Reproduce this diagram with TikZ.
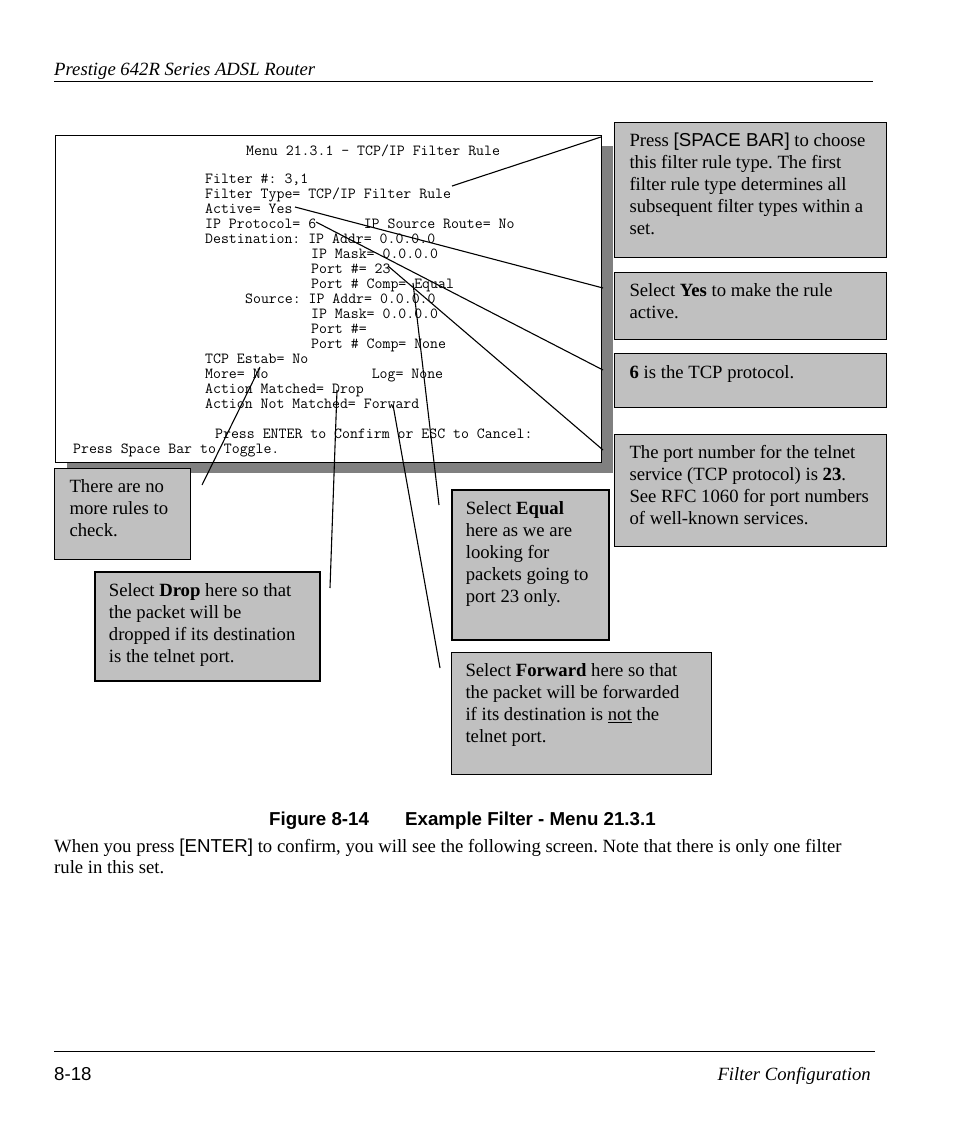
\documentclass[tikz,border=0pt]{standalone}
\usepackage{fontspec}
\setmainfont{Liberation Serif}
\setsansfont{Liberation Sans}
\usetikzlibrary{shadows}

\definecolor{notegray}{RGB}{192,192,192}
\definecolor{shadowgray}{RGB}{128,128,128}

\frenchspacing
\newcommand{\bodyfont}{\fontsize{18.7}{22}\selectfont}
\newcommand{\scrfont}{\ttfamily\fontsize{15.4}{15}\selectfont}
% fixed-size text block, top aligned
\newcommand{\notetext}[3]{\parbox[c][#2pt][t]{#1pt}{\raggedright\strut #3}}

\tikzset{
  screenline/.style={anchor=base west, inner sep=0pt, font=\scrfont},
  note/.style={draw, fill=notegray, line width=1pt, inner sep=0pt,
    anchor=north west, font=\bodyfont},
  leader/.style={line width=1.1pt},
  pagetext/.style={anchor=base west, inner sep=0pt, font=\bodyfont},
}

\begin{document}
\begin{tikzpicture}[x=1pt, y=-1pt]
    \useasboundingbox (0,0) rectangle (954,1132);

    % Running head
    \node[pagetext, font=\bodyfont\itshape] (head) at (54,75) {Prestige 642R Series ADSL Router};
    \draw[line width=0.8pt] (54,81) -- (873,81);

    % Menu screen with its shadow
    \node[draw, line width=1.2pt, fill=white, minimum width=546pt, minimum height=327pt,
        anchor=north west,
        drop shadow={shadow xshift=11pt, shadow yshift=-10pt, fill=shadowgray, opacity=1}]
        (screen) at (55,135) {};

    \node[screenline] (menu) at (246,155) {Menu 21.3.1 - TCP/IP Filter Rule};
    \node[screenline] (fnum) at (205,183) {Filter \#: 3,1};
    \node[screenline] (ftype) at (205,198) {Filter Type= TCP/IP Filter Rule};
    \node[screenline] (active) at (205,213) {Active= Yes};
    \node[screenline] (proto) at (205,228) {IP Protocol= 6~~~~~~IP Source Route= No};
    \node[screenline] (dst) at (205,243) {Destination: IP Addr= 0.0.0.0};
    \node[screenline] (dmask) at (311,258) {IP Mask= 0.0.0.0};
    \node[screenline] (dport) at (311,273) {Port \#= 23};
    \node[screenline] (dcomp) at (311,288) {Port \# Comp= Equal};
    \node[screenline] (src) at (245,303) {Source: IP Addr= 0.0.0.0};
    \node[screenline] (smask) at (311,318) {IP Mask= 0.0.0.0};
    \node[screenline] (sport) at (311,333) {Port \#=};
    \node[screenline] (scomp) at (311,348) {Port \# Comp= None};
    \node[screenline] (estab) at (205,363) {TCP Estab= No};
    \node[screenline] (more) at (205,378) {More= No~~~~~~~~~~~~~Log= None};
    \node[screenline] (match) at (205,393) {Action Matched= Drop};
    \node[screenline] (nomatch) at (205,408) {Action Not Matched= Forward};
    \node[screenline] (confirm) at (215,438) {Press ENTER to Confirm or ESC to Cancel:};
    \node[screenline] (toggle) at (73,453) {Press Space Bar to Toggle.};

    % Callouts
    \node[note, minimum width=272pt, minimum height=135pt] (spacebar) at (614,122)
        {\notetext{242}{117}{Press {\sffamily [SPACE BAR]} to choose\\ this filter rule type. The first\\
        filter rule type determines all\\ subsequent filter types within a\\ set.}};
    \node[note, minimum width=272pt, minimum height=67pt] (yes) at (614,272)
        {\notetext{242}{49}{Select \textbf{Yes} to make the rule\\ active.}};
    \node[note, line width=1.3pt, minimum width=272pt, minimum height=54pt] (six) at (614,353)
        {\notetext{242}{36}{\textbf{6} is the TCP protocol.}};
    \node[note, minimum width=272pt, minimum height=112pt] (telnet) at (614,434)
        {\notetext{242}{94}{The port number for the telnet\\ service (TCP protocol) is \textbf{23}.\\
        See RFC 1060 for port numbers\\ of well-known services.}};
    \node[note, minimum width=136pt, minimum height=91pt] (nomore) at (54,468)
        {\notetext{106}{73}{There are no\\ more rules to\\ check.}};
    \node[note, line width=1.8pt, minimum width=225pt, minimum height=109pt] (drop) at (94,571)
        {\notetext{197}{91}{Select \textbf{Drop} here so that\\ the packet will be\\
        dropped if its destination\\ is the telnet port.}};
    \node[note, line width=1.6pt, minimum width=157pt, minimum height=150pt] (equal) at (451,489)
        {\notetext{129}{132}{Select \textbf{Equal}\\ here as we are\\ looking for\\
        packets going to\\ port 23 only.}};
    \node[note, minimum width=260pt, minimum height=122pt] (forward) at (451,652)
        {\notetext{232}{104}{Select \textbf{Forward} here so that\\ the packet will be forwarded\\
        if its destination is \underline{not} the\\ telnet port.}};

    % Leader lines
    \coordinate (typeTip) at (452,186);  \coordinate (typeEnd) at (601,137);
    \coordinate (yesTip) at (295,207);   \coordinate (yesEnd) at (603,288);
    \coordinate (protoTip) at (316,222); \coordinate (protoEnd) at (603,370);
    \coordinate (portTip) at (388,266);  \coordinate (portEnd) at (603,450);
    \coordinate (eqTip) at (413,283);    \coordinate (eqEnd) at (439,505);
    \coordinate (moreTip) at (260,367);  \coordinate (moreEnd) at (202,485);
    \coordinate (dropTip) at (337,390);  \coordinate (dropEnd) at (330,588);
    \coordinate (fwdTip) at (393,405);   \coordinate (fwdEnd) at (440,668);

    \draw[leader] (typeTip) -- (typeEnd);
    \draw[leader] (yesTip) -- (yesEnd);
    \draw[leader] (protoTip) -- (protoEnd);
    \draw[leader] (portTip) -- (portEnd);
    \draw[leader] (eqTip) -- (eqEnd);
    \draw[leader] (moreTip) -- (moreEnd);
    \draw[leader] (dropTip) -- (dropEnd);
    \draw[leader] (fwdTip) -- (fwdEnd);

    % Caption and body text
    \node[pagetext, font=\sffamily\bfseries\fontsize{18.7}{22}\selectfont] (fig) at (269,825) {Figure 8-14};
    \node[pagetext, font=\sffamily\bfseries\fontsize{18.7}{22}\selectfont] (figtitle) at (405,825)
        {Example Filter - Menu 21.3.1};
    \node[pagetext] (para1) at (54,852) {When you press {\sffamily [ENTER]} to confirm, you will see
        the following screen. Note that there is only one filter};
    \node[pagetext] (para2) at (54,873) {rule in this set.};

    % Running foot
    \draw[line width=0.8pt] (54,1051) -- (875,1051);
    \node[pagetext, font=\sffamily\fontsize{18.7}{22}\selectfont] (pgno) at (54,1080) {8-18};
    \node[pagetext, anchor=base east, font=\bodyfont\itshape] (chapter) at (871,1080)
        {Filter Configuration};
\end{tikzpicture}
\end{document}
